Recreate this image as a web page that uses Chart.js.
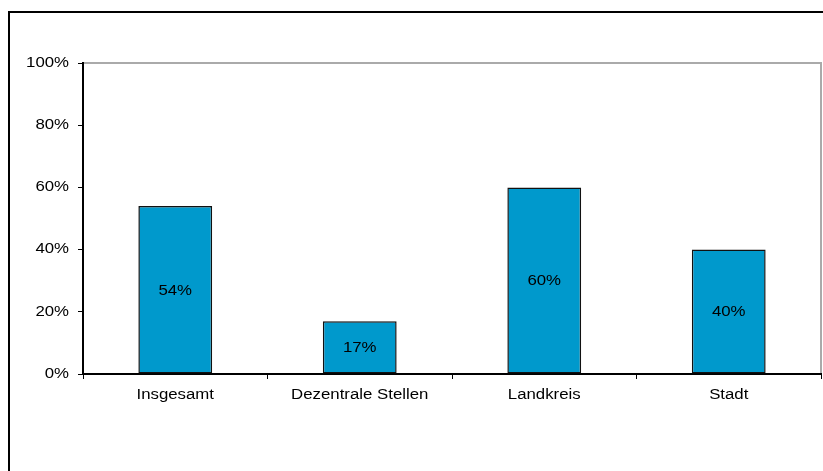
<!DOCTYPE html>
<html>
<head>
<meta charset="utf-8">
<script src="https://cdn.jsdelivr.net/npm/chart.js@4/dist/chart.umd.min.js"></script>
<style>
    html, body { margin: 0; padding: 0; background: #fff; }
    #wrap { width: 823px; height: 471px; position: relative; }
</style>
</head>
<body>
<div id="wrap"><canvas id="chart" width="823" height="471"></canvas></div>
<script>
    const categories = ['Insgesamt', 'Dezentrale Stellen', 'Landkreis', 'Stadt'];
    const shares = [54, 17, 60, 40];
    const yTicks = [0, 20, 40, 60, 80, 100];

    const fontFamily = '"Liberation Sans", Arial, sans-serif';
    const fontSize = 14;
    const stretchX = 1.2; // labels are drawn a bit wide

    function wideText(ctx, text, x, y, align) {
        ctx.save();
        ctx.translate(x, y);
        ctx.scale(stretchX, 1);
        ctx.textAlign = align;
        ctx.textBaseline = 'middle';
        ctx.fillText(text, 0, 0);
        ctx.restore();
    }

    // Outer frame plus the grey top/right edge of the plot area
    const framePlugin = {
        id: 'frame',
        beforeDraw(chart) {
            const ctx = chart.ctx;
            const a = chart.chartArea;
            ctx.save();
            ctx.fillStyle = '#fff';
            ctx.fillRect(0, 0, chart.width, chart.height);
            ctx.strokeStyle = '#000';
            ctx.lineWidth = 2;
            ctx.strokeRect(9, 12, chart.width + 20, chart.height + 20);
            ctx.strokeStyle = '#aaa';
            ctx.lineWidth = 2;
            ctx.beginPath();
            ctx.moveTo(a.left, a.top);
            ctx.lineTo(a.right, a.top);
            ctx.lineTo(a.right, a.bottom);
            ctx.stroke();
            ctx.restore();
        }
    };

    // Axis labels and the percentage in the middle of each bar
    const textPlugin = {
        id: 'texts',
        afterDraw(chart) {
            const ctx = chart.ctx;
            const xs = chart.scales.x;
            const ys = chart.scales.y;
            ctx.save();
            ctx.fillStyle = '#000';
            ctx.font = fontSize + 'px ' + fontFamily;
            ys.ticks.forEach((t, i) => {
                wideText(ctx, t.value + '%', 69, ys.getPixelForTick(i), 'right');
            });
            categories.forEach((c, i) => {
                wideText(ctx, c, xs.getPixelForTick(i), 395, 'center');
            });
            chart.getDatasetMeta(0).data.forEach((bar, i) => {
                wideText(ctx, shares[i] + '%', bar.x, (bar.y + bar.base) / 2 + 1, 'center');
            });
            ctx.restore();
        }
    };

    new Chart(document.getElementById('chart'), {
        type: 'bar',
        data: {
            labels: categories,
            datasets: [{
                data: shares,
                backgroundColor: '#0099cc',
                borderColor: '#111',
                borderWidth: 1.5,
                borderSkipped: false,
                categoryPercentage: 1,
                barPercentage: 0.4
            }]
        },
        options: {
            responsive: false,
            animation: false,
            devicePixelRatio: 1,
            layout: { padding: { left: 0, right: 2, top: 63, bottom: 57 } },
            plugins: {
                legend: { display: false },
                tooltip: { enabled: false }
            },
            scales: {
                x: {
                    grid: {
                        offset: true,
                        drawOnChartArea: false,
                        drawTicks: true,
                        tickLength: 5,
                        tickColor: '#000'
                    },
                    border: { display: true, color: '#000', width: 2 },
                    ticks: {
                        color: 'rgba(0,0,0,0)',
                        font: { family: fontFamily, size: fontSize },
                        padding: 8,
                        maxRotation: 0
                    },
                    afterFit: (s) => { s.height = 40; }
                },
                y: {
                    min: 0,
                    max: 100,
                    afterBuildTicks: (s) => { s.ticks = yTicks.map(v => ({ value: v })); },
                    grid: {
                        drawOnChartArea: false,
                        drawTicks: true,
                        tickLength: 5,
                        tickColor: '#000'
                    },
                    border: { display: true, color: '#000', width: 2 },
                    ticks: {
                        color: 'rgba(0,0,0,0)',
                        font: { family: fontFamily, size: fontSize },
                        padding: 9,
                        callback: (v) => v + '%'
                    },
                    afterFit: (s) => { s.width = 83; }
                }
            }
        },
        plugins: [framePlugin, textPlugin]
    });
</script>
</body>
</html>
